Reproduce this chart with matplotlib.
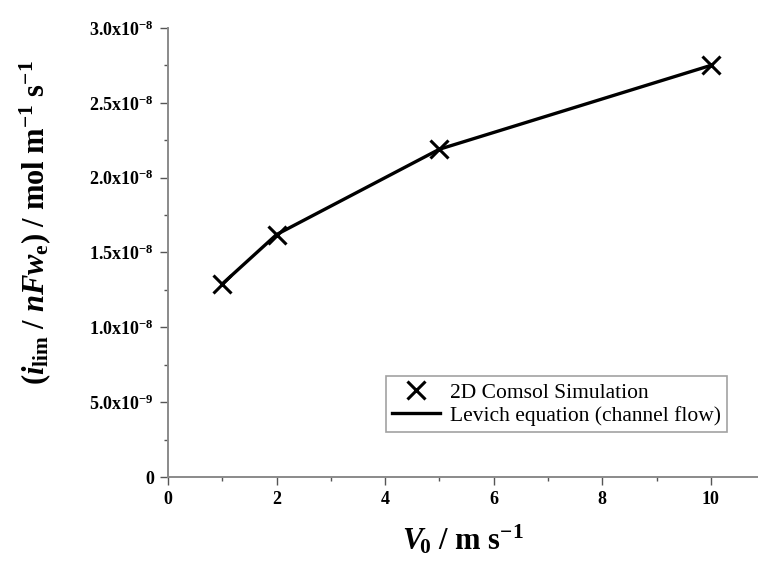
import math
import matplotlib
matplotlib.use("Agg")
import matplotlib.pyplot as plt
from matplotlib.ticker import MultipleLocator, FuncFormatter

plt.rcParams['mathtext.fontset'] = 'custom'
plt.rcParams['mathtext.rm'] = 'Liberation Serif:bold'
plt.rcParams['mathtext.it'] = 'Liberation Serif:bold:italic'
plt.rcParams['mathtext.bf'] = 'Liberation Serif:bold'
plt.rcParams['font.family'] = ['Liberation Serif', 'DejaVu Serif']

# data
v0 = [1, 2, 5, 10]                              # m s^-1
sim = [1.29e-8, 1.62e-8, 2.19e-8, 2.75e-8]      # 2D Comsol Simulation
levich = [1.29e-8, 1.62e-8, 2.19e-8, 2.75e-8]   # Levich equation (channel flow)

W, H = 758, 565
fig = plt.figure(figsize=(W / 100, H / 100), dpi=100)
ax = fig.add_axes([168 / W, 1 - 477 / H, 1 - 168 / W, (477 - 28) / H])

ax.plot(v0, levich, color='black', lw=2.4, label='Levich equation (channel flow)', zorder=2)
ax.plot(v0, sim, ls='none', marker='x', color='black', ms=13, mew=2.2,
        label='2D Comsol Simulation', zorder=3)

ax.set_xlim(0, 10.87)
ax.set_ylim(0, 3.0e-8)

for s in ['top', 'right']:
    ax.spines[s].set_visible(False)
for s in ['left', 'bottom']:
    ax.spines[s].set_color('#8a8a8a')
    ax.spines[s].set_linewidth(1.4)

ax.xaxis.set_major_locator(MultipleLocator(2))
ax.xaxis.set_minor_locator(MultipleLocator(1))
ax.yaxis.set_major_locator(MultipleLocator(0.5e-8))
ax.yaxis.set_minor_locator(MultipleLocator(0.25e-8))


def yfmt(v, pos):
    if abs(v) < 1e-20:
        return '0'
    e = int(math.floor(math.log10(abs(v)) + 1e-9))
    m = v / 10 ** e
    return r'%.1fx10$^{%d}$' % (m, e)


ax.yaxis.set_major_formatter(FuncFormatter(yfmt))
ax.tick_params(which='both', direction='out', color='#555555', width=1.0)
ax.tick_params(which='major', length=6, labelsize=13, pad=4)
ax.tick_params(which='minor', length=3)
for lab in ax.get_xticklabels() + ax.get_yticklabels():
    lab.set_fontweight('bold')

ax.set_xlabel(r'$V_{\!\mathit{0}}$ / m s$^{\mathbf{-1}}$', fontsize=22, fontweight='bold', labelpad=11)
fig.text(35 / W, 1 - 223 / H,
         r'$(i_{\rm lim}\ /\ nFw_{\rm e})$ / mol m$^{\mathbf{-1}}$ s$^{\mathbf{-1}}$',
         rotation=90, ha='center', va='center', fontsize=22, fontweight='bold')

h, l = ax.get_legend_handles_labels()
leg = ax.legend(h[::-1], l[::-1], loc='lower right', bbox_to_anchor=(727 / W, 1 - 432 / H),
                bbox_transform=fig.transFigure, fontsize=15.5, frameon=True, fancybox=False,
                edgecolor='#8a8a8a', borderpad=0.3, handlelength=2.2, handletextpad=0.45,
                labelspacing=0.12, borderaxespad=0)
leg.get_frame().set_linewidth(1.2)

fig.savefig('out.png', dpi=100)
